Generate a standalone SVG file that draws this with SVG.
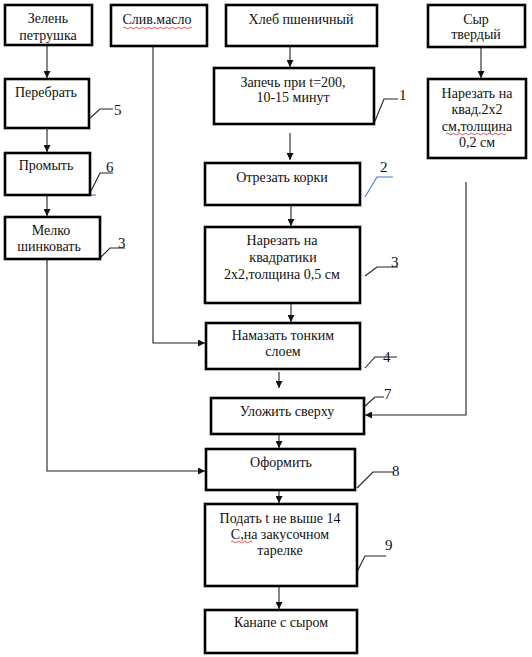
<svg xmlns="http://www.w3.org/2000/svg" width="532" height="657" viewBox="0 0 532 657">
<defs>
<style>
.box{fill:#fff;stroke:#000;stroke-width:2.6}
.t{font-family:"Liberation Serif","Times New Roman","DejaVu Serif",serif;font-size:14px;fill:#111;text-anchor:middle}
.n{font-family:"Liberation Serif","Times New Roman","DejaVu Serif",serif;font-size:15px;fill:#111}
.c{fill:none;stroke:#222;stroke-width:1.1}
.l{fill:none;stroke:#222;stroke-width:1.1}
.lb{fill:none;stroke:#3f7fd0;stroke-width:1.1}
.sq{fill:none;stroke:#e02020;stroke-width:0.8}
</style>
<marker id="ar" viewBox="0 0 8 8" refX="8" refY="4" markerWidth="7" markerHeight="7" markerUnits="userSpaceOnUse" orient="auto">
<path d="M0,0 L8,4 L0,8 Z" fill="#111"/>
</marker>
</defs>
<rect width="532" height="657" fill="#fff"/>

<g id="connectors">
<path class="c" d="M47,45 V78" marker-end="url(#ar)"/>
<path class="c" d="M47,128 V152" marker-end="url(#ar)"/>
<path class="c" d="M47,195 V216" marker-end="url(#ar)"/>
<path class="c" d="M47,259 V471 H205" marker-end="url(#ar)"/>
<path class="c" d="M153,46 V343 H205" marker-end="url(#ar)"/>
<path class="c" d="M290,46 V67" marker-end="url(#ar)"/>
<path class="c" d="M290,133 V160" marker-end="url(#ar)"/>
<path class="c" d="M291,205 V226" marker-end="url(#ar)"/>
<path class="c" d="M291,303 V322" marker-end="url(#ar)"/>
<path class="c" d="M279,372 V388" marker-end="url(#ar)"/>
<path class="c" d="M279,434 V448" marker-end="url(#ar)"/>
<path class="c" d="M279,490 V503" marker-end="url(#ar)"/>
<path class="c" d="M279,586 V609" marker-end="url(#ar)"/>
<path class="c" d="M481,47 V78" marker-end="url(#ar)"/>
<path class="c" d="M466,182 V415 H365" marker-end="url(#ar)"/>
</g>

<g id="leaders">
<path class="l" d="M89,119 L100,109 H113"/>
<text class="n" x="114" y="115">5</text>
<path class="l" d="M375,121 L384,99 H398"/>
<text class="n" x="399" y="100">1</text>
<path class="l" d="M90,193 L100,173 H113"/>
<path class="lb" d="M80,195 H96"/>
<text class="n" x="106" y="172">6</text>
<path class="l" d="M100,258 L110,248 H125"/>
<text class="n" x="118" y="248">3</text>
<path class="lb" d="M365,197 L377,177 H393"/>
<text class="n" x="380" y="172" fill="#2a4f9a">2</text>
<path class="l" d="M365,276 L377,267 H398"/>
<text class="n" x="391" y="267">3</text>
<path class="l" d="M365,368 L375,357 H397"/>
<text class="n" x="383" y="362">4</text>
<path class="l" d="M364,407 L375,397 H384"/>
<text class="n" x="384" y="399">7</text>
<path class="l" d="M357,488 L373,472 H393"/>
<text class="n" x="392" y="476">8</text>
<path class="l" d="M354,578 L365,556 H386"/>
<text class="n" x="385" y="550">9</text>
</g>

<g id="n-zelen"><rect class="box" x="5" y="5" width="87" height="40"/><text class="t" x="48" y="23">Зелень</text><text class="t" x="48" y="40">петрушка</text></g>
<g id="n-maslo"><rect class="box" x="111" y="5" width="96" height="41"/><text class="t" x="157" y="24">Слив.масло</text><path class="sq" d="M123,28 q1.5,-1.5 3,0 t3,0 t3,0 t3,0 t3,0 t3,0 t3,0 t3,0 t3,0 t3,0 t3,0 t3,0 t3,0 t3,0 t3,0 t3,0 t3,0 t3,0 t3,0 t3,0 t3,0 t3,0 t3,0"/></g>
<g id="n-hleb"><rect class="box" x="226" y="5" width="151" height="41"/><text class="t" x="301" y="24">Хлеб пшеничный</text></g>
<g id="n-syr"><rect class="box" x="428" y="5" width="97" height="42"/><text class="t" x="476" y="24">Сыр</text><text class="t" x="476" y="39">твердый</text></g>
<g id="n-perebrat"><rect class="box" x="5" y="79" width="84" height="49"/><text class="t" x="46" y="97">Перебрать</text></g>
<g id="n-zapech"><rect class="box" x="214" y="68" width="160" height="56"/><text class="t" x="293" y="87">Запечь при t=200,</text><text class="t" x="293" y="102">10-15 минут</text></g>
<g id="n-narezat-kv"><rect class="box" x="428" y="79" width="98" height="79"/><text class="t" x="477" y="98">Нарезать на</text><text class="t" x="477" y="114">квад.2х2</text><text class="t" x="477" y="131">см,толщина</text><path class="sq" d="M446,134 q1.5,-1.5 3,0 t3,0 t3,0 t3,0 t3,0 t3,0 t3,0 t3,0 t3,0 t3,0 t3,0 t3,0 t3,0 t3,0 t3,0 t3,0 t3,0 t3,0 t3,0 t3,0"/><text class="t" x="477" y="147">0,2 см</text></g>
<g id="n-promyt"><rect class="box" x="5" y="153" width="85" height="42"/><text class="t" x="46" y="170">Промыть</text></g>
<g id="n-melko"><rect class="box" x="5" y="217" width="95" height="42"/><text class="t" x="51" y="235">Мелко</text><text class="t" x="49" y="251">шинковать</text></g>
<g id="n-otrezat"><rect class="box" x="205" y="163" width="155" height="42"/><text class="t" x="282" y="182">Отрезать корки</text></g>
<g id="n-narezat"><rect class="box" x="205" y="227" width="155" height="76"/><text class="t" x="282" y="245">Нарезать на</text><text class="t" x="283" y="262">квадратики</text><text class="t" x="282" y="279">2х2,толщина 0,5 см</text></g>
<g id="n-namazat"><rect class="box" x="206" y="323" width="154" height="46"/><text class="t" x="283" y="340">Намазать тонким</text><text class="t" x="283" y="356">слоем</text></g>
<g id="n-ulozhit"><rect class="box" x="211" y="398" width="153" height="36"/><text class="t" x="287" y="416">Уложить сверху</text></g>
<g id="n-oformit"><rect class="box" x="206" y="449" width="149" height="41"/><text class="t" x="281" y="467">Оформить</text></g>
<g id="n-podat"><rect class="box" x="205" y="504" width="152" height="82"/><text class="t" x="280" y="523">Подать t не выше 14</text><text class="t" x="280" y="539">С,на закусочном</text><path class="sq" d="M231,542 q1.5,-1.5 3,0 t3,0 t3,0 t3,0 t3,0 t3,0 t3,0"/><text class="t" x="280" y="555">тарелке</text></g>
<g id="n-kanape"><rect class="box" x="205" y="610" width="152" height="43"/><text class="t" x="281" y="627">Канапе с сыром</text></g>
</svg>
